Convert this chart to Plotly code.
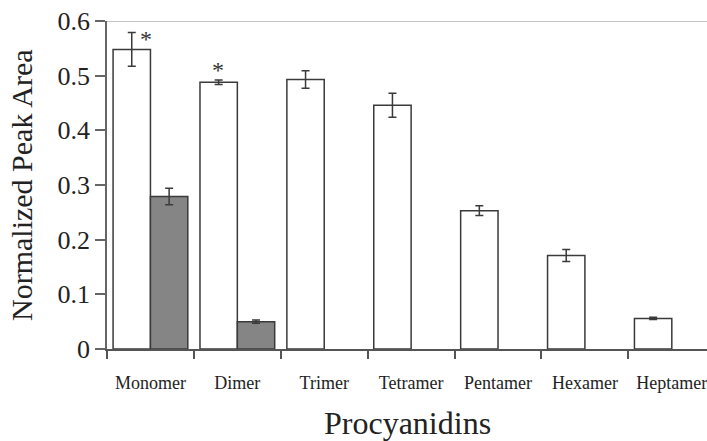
import plotly.graph_objects as go

categories = ["Monomer", "Dimer", "Trimer", "Tetramer", "Pentamer", "Hexamer", "Heptamer"]
white_vals = [0.548, 0.488, 0.493, 0.446, 0.253, 0.171, 0.056]
white_err = [0.031, 0.004, 0.016, 0.022, 0.009, 0.011, 0.002]
gray_vals = [0.279, 0.050, None, None, None, None, None]
gray_err = [0.015, 0.003, None, None, None, None, None]
y_ticks = [0, 0.1, 0.2, 0.3, 0.4, 0.5, 0.6]
y_tick_labels = ["0", "0.1", "0.2", "0.3", "0.4", "0.5", "0.6"]
star_cats = ["Monomer", "Dimer"]
star_y = [0.567, 0.511]
star_shift = [-4.5, -19]

FONT = "Liberation Serif"
EDGE = "#3a3a3a"

fig = go.Figure()
fig.add_trace(go.Bar(
    x=categories, y=white_vals,
    marker=dict(color="white", line=dict(color=EDGE, width=1.5)),
    error_y=dict(type="data", array=white_err, color=EDGE, thickness=1.5, width=4),
    showlegend=False,
))
fig.add_trace(go.Bar(
    x=categories, y=gray_vals,
    marker=dict(color="#858585", line=dict(color=EDGE, width=1.5)),
    error_y=dict(type="data", array=gray_err, color=EDGE, thickness=1.5, width=4),
    showlegend=False,
))

fig.add_shape(type="line", xref="paper", yref="y", x0=0, x1=1, y0=0.6, y1=0.6,
              line=dict(color="#c4c4c4", width=2), layer="below")

annotations = []
for c, yv, sh in zip(star_cats, star_y, star_shift):
    annotations.append(dict(x=c, y=yv, xref="x", yref="y", text="*", showarrow=False,
                            xshift=sh, yanchor="middle",
                            font=dict(family=FONT, size=24, color="#333")))
annotations.append(dict(x=0.5, y=0, xref="paper", yref="paper", text="Procyanidins",
                        showarrow=False, yshift=-74, yanchor="middle",
                        font=dict(family=FONT, size=32, color="#222")))
annotations.append(dict(x=0, y=0.5, xref="paper", yref="paper", text="Normalized Peak Area",
                        showarrow=False, xshift=-86, xanchor="center", yanchor="middle",
                        textangle=-90, font=dict(family=FONT, size=30, color="#222")))

fig.update_layout(
    width=707, height=441,
    margin=dict(l=107, r=0, t=21, b=92),
    paper_bgcolor="white", plot_bgcolor="white",
    barmode="group", bargap=0.14, bargroupgap=0,
    annotations=annotations,
    font=dict(family=FONT, color="#222"),
)
fig.update_xaxes(
    type="category", range=[-0.5, 6.405], tickson="boundaries",
    ticks="outside", ticklen=8, tickwidth=1.5, tickcolor="#555",
    showline=True, linecolor="#555", linewidth=1.5,
    showgrid=False, tickfont=dict(family=FONT, size=18, color="#222"),
    ticklabelstandoff=17,
)
fig.update_yaxes(
    range=[0, 0.6], tickvals=y_ticks, ticktext=y_tick_labels,
    ticks="outside", ticklen=10, tickwidth=1.5, tickcolor="#666",
    showline=True, linecolor="#666", linewidth=1.5,
    showgrid=False, zeroline=False,
    tickfont=dict(family=FONT, size=26, color="#222"),
)

fig.write_html("out.html", config={"displayModeBar": False},
               post_script="document.body.style.margin='0';document.body.style.overflow='hidden';")
